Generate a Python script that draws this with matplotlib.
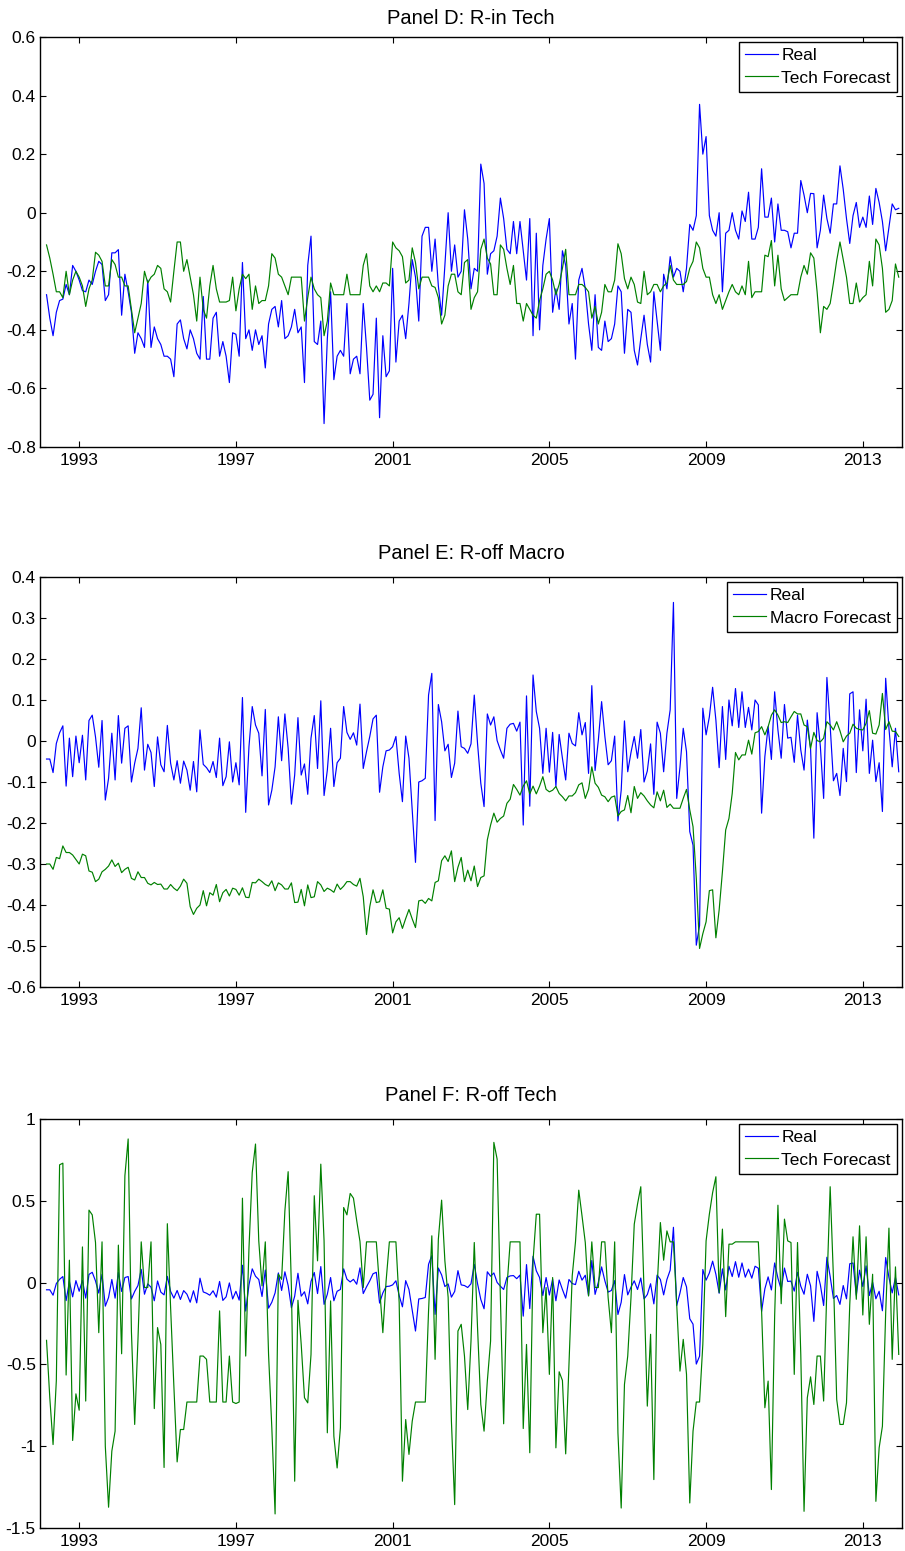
import numpy as np
import matplotlib
matplotlib.use("Agg")
import matplotlib.pyplot as plt

plt.rcParams['font.family'] = ['Liberation Sans', 'DejaVu Sans']
plt.rcParams['axes.unicode_minus'] = False

# monthly observations, 1992 Mar .. 2013 Dec
rin_real = [
    -0.28, -0.36, -0.42, -0.34, -0.30, -0.295, -0.245, -0.28, -0.18, -0.20, -0.23,
    -0.266, -0.27, -0.23, -0.245, -0.20, -0.166, -0.177, -0.30, -0.28, -0.137, -0.137, -0.126,
    -0.35, -0.21, -0.27, -0.34, -0.48, -0.41, -0.43, -0.46, -0.23, -0.46, -0.39, -0.43,
    -0.45, -0.49, -0.49, -0.50, -0.56, -0.38, -0.366, -0.43, -0.465, -0.40, -0.43, -0.48,
    -0.50, -0.286, -0.50, -0.50, -0.36, -0.34, -0.49, -0.44, -0.49, -0.58, -0.41, -0.415,
    -0.49, -0.17, -0.43, -0.40,
    -0.47, -0.40, -0.45, -0.42, -0.53, -0.38, -0.33, -0.32, -0.39, -0.30,
    -0.43, -0.42, -0.39, -0.33, -0.41, -0.39, -0.58, -0.18, -0.08, -0.44,
    -0.45, -0.37, -0.72, -0.43, -0.27, -0.57, -0.49, -0.47, -0.49, -0.31,
    -0.55, -0.50, -0.49, -0.55, -0.31, -0.46, -0.64, -0.62, -0.36, -0.70,
    -0.42, -0.56, -0.54, -0.19, -0.51, -0.37, -0.35, -0.43, -0.31, -0.16,
    -0.22, -0.37, -0.08, -0.05, -0.05, -0.20, -0.09, -0.25, -0.35, -0.18,
    0.0, -0.20, -0.11, -0.22, -0.20, 0.01, -0.09,
    -0.26, -0.19, -0.20, 0.166, 0.10, -0.21, -0.14, -0.13, -0.08, 0.05,
    -0.02, -0.125, -0.14, -0.03, -0.14, -0.03, -0.13, -0.23, -0.02, -0.42,
    -0.07, -0.40, -0.18, -0.09, -0.02, -0.34, -0.26, -0.33, -0.13, -0.18,
    -0.38, -0.31, -0.50, -0.23, -0.19, -0.26, -0.38, -0.47, -0.28, -0.46,
    -0.47, -0.37, -0.44, -0.43, -0.38, -0.25, -0.27, -0.48, -0.33, -0.34,
    -0.47, -0.52, -0.43, -0.35, -0.45, -0.51, -0.27, -0.37, -0.47, -0.21,
    -0.26, -0.15, -0.22, -0.19, -0.20, -0.27,
    -0.19, -0.04, -0.06, -0.01, 0.37, 0.20, 0.26, -0.01, -0.06, -0.08,
    0.0, -0.27, -0.07, -0.06, 0.0, -0.06, -0.09, 0.006, -0.03, 0.07,
    -0.09, -0.09, -0.05, 0.15, -0.015, -0.015, 0.05, -0.10, 0.03, -0.06,
    -0.06, -0.065, -0.12, -0.07, -0.07, 0.11, 0.06, 0.0, 0.066, 0.065,
    -0.12, -0.06, 0.06, -0.02, -0.07, 0.03, 0.03, 0.16, 0.08, -0.02,
    -0.105, -0.01, 0.035, -0.05, -0.015, -0.05, 0.057, -0.04, 0.083, 0.035,
    -0.03, -0.13, -0.05, 0.03, 0.01, 0.015,
]

rin_tech = [
    -0.11, -0.155, -0.21, -0.27, -0.27, -0.29, -0.20, -0.28, -0.23, -0.20,
    -0.22, -0.25, -0.32, -0.26, -0.23, -0.135, -0.145, -0.166, -0.25, -0.25,
    -0.16, -0.177, -0.22, -0.22, -0.25, -0.25, -0.33, -0.41, -0.36, -0.31,
    -0.20, -0.24, -0.22, -0.21, -0.18, -0.19, -0.26, -0.27, -0.305, -0.20,
    -0.10, -0.10, -0.20, -0.16, -0.22, -0.28, -0.37, -0.22, -0.33, -0.36,
    -0.25, -0.18, -0.26, -0.305, -0.305, -0.305, -0.30, -0.22, -0.335, -0.26,
    -0.21, -0.225, -0.21,
    -0.33, -0.25, -0.31, -0.30, -0.30, -0.25, -0.14, -0.155, -0.21, -0.22,
    -0.25, -0.28, -0.22, -0.22, -0.22, -0.22, -0.37, -0.29, -0.22, -0.26,
    -0.28, -0.29, -0.42, -0.37, -0.24, -0.28, -0.28, -0.28, -0.28, -0.21,
    -0.28, -0.28, -0.28, -0.28, -0.18, -0.14, -0.25, -0.27, -0.25, -0.27,
    -0.24, -0.24, -0.25, -0.10, -0.12, -0.13, -0.15, -0.24, -0.23, -0.12,
    -0.17, -0.26, -0.22, -0.22, -0.22, -0.25, -0.255, -0.29, -0.38, -0.35,
    -0.25, -0.21, -0.21, -0.27, -0.28, -0.17, -0.16,
    -0.33, -0.29, -0.27, -0.125, -0.09, -0.155, -0.175, -0.28, -0.28, -0.11,
    -0.125, -0.19, -0.245, -0.18, -0.31, -0.31, -0.37, -0.31, -0.33, -0.35,
    -0.36, -0.30, -0.26, -0.21, -0.20, -0.23, -0.28, -0.245, -0.19, -0.125,
    -0.28, -0.28, -0.28, -0.245, -0.245, -0.255, -0.27, -0.36, -0.32, -0.38,
    -0.34, -0.245, -0.27, -0.27, -0.23, -0.106, -0.14, -0.225, -0.26, -0.22,
    -0.245, -0.305, -0.31, -0.20, -0.28, -0.27, -0.245, -0.245, -0.27, -0.25,
    -0.24, -0.18, -0.23, -0.245, -0.245, -0.245,
    -0.235, -0.19, -0.166, -0.10, -0.12, -0.19, -0.22, -0.22, -0.28, -0.31,
    -0.28, -0.33, -0.30, -0.27, -0.245, -0.27, -0.28, -0.25, -0.28, -0.166,
    -0.29, -0.27, -0.27, -0.27, -0.145, -0.15, -0.095, -0.25, -0.145, -0.26,
    -0.30, -0.29, -0.28, -0.28, -0.28, -0.22, -0.18, -0.21, -0.137, -0.155,
    -0.27, -0.41, -0.32, -0.33, -0.31, -0.24, -0.163, -0.10, -0.16, -0.22,
    -0.31, -0.31, -0.24, -0.305, -0.29, -0.28, -0.166, -0.25, -0.09, -0.11,
    -0.19, -0.34, -0.33, -0.30, -0.175, -0.22,
]

roff_real = [
    -0.044, -0.044, -0.077, -0.006, 0.02, 0.037, -0.11, 0.007, -0.087, 0.012,
    -0.053, 0.014, -0.095, 0.05, 0.063, 0.01, -0.064, 0.05, -0.144, -0.091,
    0.019, -0.095, 0.062, -0.054, 0.031, 0.037, -0.1, -0.054, -0.018, 0.081,
    -0.071, -0.008, -0.028, -0.111, 0.01, -0.058, -0.075, 0.038, -0.054, -0.095,
    -0.048, -0.103, -0.049, -0.071, -0.12, -0.05, -0.124, 0.027, -0.057, -0.065,
    -0.077, -0.05, -0.089, 0.007, -0.109, -0.087, -0.002, -0.1, -0.053, -0.107,
    0.106, -0.174, -0.014,
    0.084, 0.039, 0.019, -0.085, 0.077, -0.156, -0.12, -0.063, 0.059, -0.048,
    0.066, -0.018, -0.154, -0.083, 0.057, -0.083, -0.056, -0.13, 0.007, 0.062,
    -0.067, 0.098, -0.133, -0.071, 0.031, -0.111, -0.053, -0.042, 0.084, 0.021,
    0.004, 0.02, -0.01, 0.09, -0.067, -0.026, 0.011, 0.054, 0.063, -0.125,
    -0.063, -0.024, -0.022, -0.014, 0.011, -0.079, -0.148, 0.012, -0.042, -0.17,
    -0.296, -0.1, -0.097, -0.091, 0.112, 0.165, -0.194, 0.089, 0.047, -0.024,
    -0.008, -0.089, -0.054, 0.073, -0.014, -0.018, -0.03,
    -0.007, 0.112, -0.006, -0.103, -0.16, 0.066, 0.039, 0.059, 0.001, -0.022,
    -0.042, 0.031, 0.041, 0.043, 0.024, 0.046, -0.205, 0.11, -0.159, 0.161,
    0.072, 0.031, -0.079, 0.031, -0.076, 0.021, -0.111, 0.016, -0.042, -0.095,
    0.019, -0.006, -0.012, 0.069, 0.015, 0.045, -0.079, 0.135, -0.072, 0.002,
    0.096, 0.011, -0.058, -0.048, 0.012, -0.195, -0.12, 0.049, -0.075, -0.028,
    0.011, -0.042, 0.028, -0.1, -0.073, -0.007, -0.13, 0.046, 0.019, -0.075,
    0.019, 0.076, 0.338, -0.14, -0.064, 0.031,
    -0.026, -0.221, -0.254, -0.498, -0.45, 0.08, 0.015, 0.059, 0.131, 0.051,
    -0.065, 0.084, -0.045, 0.1, 0.037, 0.128, 0.033, 0.12, 0.033, 0.082,
    0.027, 0.1, 0.088, -0.176, -0.038, 0.035, -0.045, 0.12, 0.027, -0.042,
    0.089, 0.007, 0.009, -0.052, 0.063, -0.022, -0.071, 0.051, -0.02, -0.237,
    0.069, -0.014, -0.14, 0.155, 0.037, -0.097, -0.079, -0.133, -0.018, -0.099,
    0.115, 0.12, -0.077, 0.076, -0.024, 0.102, -0.079, 0.002, -0.099, -0.053,
    -0.172, 0.153, 0.031, -0.063, 0.031, -0.075,
]

roff_macro = [
    -0.30, -0.30, -0.313, -0.284, -0.287, -0.256, -0.272, -0.272, -0.278, -0.289,
    -0.30, -0.276, -0.28, -0.317, -0.32, -0.343, -0.337, -0.319, -0.313, -0.305,
    -0.29, -0.306, -0.298, -0.321, -0.313, -0.308, -0.335, -0.339, -0.319, -0.333,
    -0.333, -0.347, -0.351, -0.345, -0.35, -0.349, -0.361, -0.361, -0.35, -0.359,
    -0.365, -0.354, -0.337, -0.347, -0.404, -0.423, -0.408, -0.40, -0.365, -0.402,
    -0.37, -0.376, -0.35, -0.392, -0.37, -0.362, -0.378, -0.359, -0.362, -0.376,
    -0.358, -0.381, -0.382,
    -0.345, -0.346, -0.337, -0.343, -0.35, -0.354, -0.341, -0.365, -0.346, -0.351,
    -0.361, -0.361, -0.346, -0.394, -0.393, -0.362, -0.402, -0.351, -0.382, -0.38,
    -0.343, -0.351, -0.367, -0.359, -0.363, -0.369, -0.349, -0.362, -0.354, -0.343,
    -0.343, -0.35, -0.354, -0.335, -0.38, -0.472, -0.404, -0.363, -0.394, -0.392,
    -0.363, -0.408, -0.41, -0.468, -0.441, -0.431, -0.457, -0.433, -0.411, -0.434,
    -0.455, -0.39, -0.388, -0.396, -0.384, -0.39, -0.345, -0.341, -0.292, -0.28,
    -0.294, -0.268, -0.343, -0.308, -0.284, -0.343, -0.315,
    -0.341, -0.305, -0.355, -0.333, -0.329, -0.241, -0.205, -0.176, -0.198, -0.189,
    -0.183, -0.152, -0.142, -0.106, -0.118, -0.132, -0.11, -0.097, -0.129, -0.11,
    -0.129, -0.11, -0.087, -0.118, -0.124, -0.12, -0.111, -0.128, -0.136, -0.146,
    -0.134, -0.134, -0.126, -0.107, -0.102, -0.14, -0.118, -0.063, -0.103, -0.113,
    -0.132, -0.136, -0.148, -0.137, -0.134, -0.183, -0.172, -0.168, -0.133, -0.175,
    -0.111, -0.14, -0.126, -0.134, -0.146, -0.156, -0.163, -0.124, -0.146, -0.12,
    -0.162, -0.154, -0.164, -0.164, -0.164, -0.14,
    -0.118, -0.168, -0.209, -0.335, -0.506, -0.47, -0.441, -0.365, -0.363, -0.48,
    -0.412, -0.319, -0.217, -0.189, -0.128, -0.028, -0.046, -0.034, -0.034, 0.002,
    -0.032, 0.02, 0.023, 0.035, 0.015, 0.035, 0.063, 0.076, 0.063, 0.045,
    0.047, 0.045, 0.059, 0.072, 0.066, 0.066, 0.039, 0.035, -0.018, 0.021,
    0.001, -0.002, 0.007, 0.047, 0.039, 0.027, 0.047, 0.025, -0.002, 0.012,
    0.019, 0.041, 0.031, 0.028, 0.027, 0.043, 0.074, 0.019, 0.017, 0.039,
    0.116, 0.028, 0.047, 0.024, 0.023, 0.011,
]

roff_tech = [
    -0.353, -0.704, -0.99, -0.60, 0.72, 0.73, -0.565, 0.137, -0.965, -0.68,
    -0.78, 0.218, -0.724, 0.443, 0.414, 0.245, -0.306, 0.249, -1.0, -1.373,
    -1.03, -0.908, 0.229, -0.435, 0.653, 0.878, -0.3, -0.867, -0.35, 0.249,
    -0.03, -0.03, 0.249, -0.77, -0.275, -0.378, -1.13, 0.36, -0.153, -0.633,
    -1.096, -0.898, -0.898, -0.73, -0.73, -0.73, -0.73, -0.449, -0.449, -0.469,
    -0.73, -0.73, -0.73, -0.173, -0.73, -0.73, -0.449, -0.73, -0.739, -0.73,
    0.516, -0.449, 0.21,
    0.673, 0.847, 0.255, -0.02, 0.249, -0.439, -0.888, -1.414, 0.051, 0.02,
    0.439, 0.678, -0.03, -1.214, -0.108, -0.378, -0.704, -0.735, -0.439, 0.531,
    0.133, 0.724, 0.255, -0.918, -0.112, -0.939, -1.133, -0.888, 0.459, 0.414,
    0.545, 0.516, 0.378, 0.251, -0.03, 0.249, 0.249, 0.249, 0.249, -0.03,
    -0.306, 0.01, 0.249, 0.249, 0.249, -0.122, -1.214, -0.837, -1.05, -0.847,
    -0.73, -0.73, -0.73, -0.73, -0.173, 0.286, -0.469, 0.265, 0.504, 0.133,
    -0.09, -0.847, -1.357, -0.296, -0.255, -0.449, -0.776,
    -0.357, 0.245, -0.275, -0.745, -0.908, -0.602, -0.357, 0.857, 0.755, -0.092,
    -0.863, -0.03, 0.249, 0.249, 0.249, 0.249, -0.892, -0.378, -1.04, 0.133,
    0.418, 0.418, -0.306, -0.03, -0.561, 0.031, -1.01, -0.545, -0.598, -1.047,
    -0.5, 0.041, 0.249, 0.565, 0.408, 0.245, -0.082, 0.249, -0.03, -0.03,
    0.249, 0.249, -0.092, -0.306, 0.249, -0.918, -1.378, -0.622, -0.449, -0.092,
    0.357, 0.48, 0.586, -0.051, -0.755, -0.316, -1.204, -0.03, 0.367, 0.137,
    0.316, 0.249, 0.249, -0.133, -0.541, -0.347,
    -0.56, -1.347, -0.908, -0.73, -0.73, -0.378, 0.255, 0.418, 0.55, 0.647,
    -0.061, 0.327, -0.208, 0.235, 0.235, 0.249, 0.249, 0.249, 0.249, 0.249,
    0.249, 0.249, 0.249, -0.173, -0.765, -0.602, -1.265, -0.2, 0.473, -0.129,
    0.388, 0.255, 0.245, -0.561, 0.245, -0.439, -1.398, -0.704, -0.576, -0.745,
    -0.449, -0.449, -0.724, -0.027, 0.586, 0.031, -0.714, -0.867, -0.867, -0.735,
    -0.133, 0.28, -0.102, 0.347, -0.198, 0.28, -0.255, 0.051, -1.337, -1.01,
    -0.878, -0.184, 0.333, -0.469, 0.096, -0.439,
]

year_ticks = [1993, 1997, 2001, 2005, 2009, 2013]

panels = [
    ("Panel D: R-in Tech", rin_real, rin_tech, "Tech Forecast",
     (-0.8, 0.6), [-0.8, -0.6, -0.4, -0.2, 0, 0.2, 0.4, 0.6],
     ["-0.8", "-0.6", "-0.4", "-0.2", "0", "0.2", "0.4", "0.6"]),
    ("Panel E: R-off Macro", roff_real, roff_macro, "Macro Forecast",
     (-0.6, 0.4), [-0.6, -0.5, -0.4, -0.3, -0.2, -0.1, 0, 0.1, 0.2, 0.3, 0.4],
     ["-0.6", "-0.5", "-0.4", "-0.3", "-0.2", "-0.1", "0", "0.1", "0.2", "0.3", "0.4"]),
    ("Panel F: R-off Tech", roff_real, roff_tech, "Tech Forecast",
     (-1.5, 1.0), [-1.5, -1, -0.5, 0, 0.5, 1],
     ["-1.5", "-1", "-0.5", "0", "0.5", "1"]),
]

fig = plt.figure(figsize=(9.05, 15.51), dpi=100)
W, H = 905.0, 1551.0
boxes = [(37, 447), (577, 987), (1119, 1528)]
title_pads = [9, 13, 13]

for (title, real, fc, fc_label, ylim, yt, ytl), (top, bot), tp in zip(panels, boxes, title_pads):
    ax = fig.add_axes([40 / W, 1 - bot / H, 862 / W, (bot - top) / H])
    t_real = 1992 + 2 / 12 + np.arange(len(real)) / 12
    t_fc = 1992 + 2 / 12 + np.arange(len(fc)) / 12
    ax.plot(t_real, real, color=(0, 0, 1), lw=0.85, label="Real")
    ax.plot(t_fc, fc, color=(0, 0.5, 0), lw=0.85, label=fc_label)
    ax.set_xlim(1992, 2014)
    ax.set_ylim(*ylim)
    ax.set_xticks(year_ticks)
    ax.set_xticklabels([str(y) for y in year_ticks])
    ax.set_yticks(yt)
    ax.set_yticklabels(ytl)
    ax.tick_params(direction="in", length=4, width=0.8, top=True, right=True,
                   labelsize=12.5, pad=3, colors="black")
    ax.tick_params(axis="x", pad=4)
    for s in ax.spines.values():
        s.set_linewidth(1.0)
        s.set_color("black")
    ax.set_title(title, fontsize=14.5, pad=tp)
    leg = ax.legend(loc="upper right", fontsize=12.5, frameon=True, fancybox=False,
                    edgecolor="black", framealpha=1, borderaxespad=0.3,
                    handlelength=1.9, handletextpad=0.2, labelspacing=0.4,
                    borderpad=0.35)
    leg.get_frame().set_linewidth(1.0)

fig.savefig("out.png", dpi=100)
